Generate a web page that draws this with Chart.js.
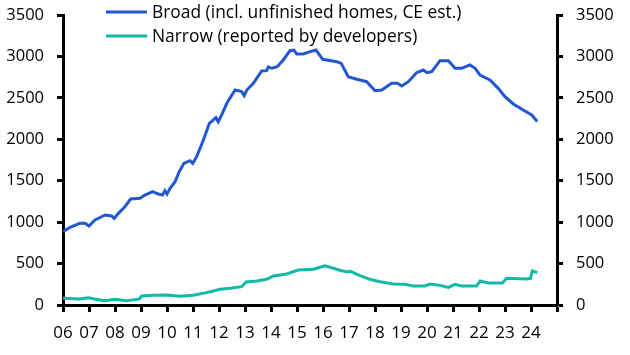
<!DOCTYPE html>
<html><head><meta charset="utf-8">
<script src="https://cdn.jsdelivr.net/npm/chart.js@4/dist/chart.umd.min.js"></script>
<style>html,body{margin:0;padding:0;background:#fff}#wrap{width:630px;height:355px}</style>
</head><body><div id="wrap"><canvas id="c" width="630" height="355"></canvas></div>
<script>
const seriesNames = ['Broad (incl. unfinished homes, CE est.)', 'Narrow (reported by developers)'];
const xTickLabels = ['06','07','08','09','10','11','12','13','14','15','16','17','18','19','20','21','22','23','24'];
const yTicks = [0,500,1000,1500,2000,2500,3000,3500];

const broadX = [2006.0,2006.27,2006.65,2006.85,2007.0,2007.23,2007.62,2007.87,2007.97,2008.13,2008.38,2008.6,2008.96,2009.15,2009.45,2009.67,2009.83,2009.92,2010.0,2010.12,2010.31,2010.47,2010.65,2010.88,2010.99,2011.14,2011.4,2011.63,2011.88,2011.97,2012.1,2012.3,2012.62,2012.87,2012.97,2013.07,2013.32,2013.64,2013.83,2013.9,2014.03,2014.24,2014.47,2014.73,2014.88,2014.99,2015.24,2015.5,2015.73,2015.99,2016.53,2016.7,2016.97,2017.3,2017.68,2018.0,2018.26,2018.64,2018.86,2019.03,2019.28,2019.6,2019.86,2020.0,2020.18,2020.5,2020.82,2021.08,2021.33,2021.65,2021.85,2022.04,2022.42,2022.74,2023.0,2023.32,2023.7,2024.03,2024.24];
const broadY = [885,938,986,986,953,1026,1086,1074,1046,1106,1186,1279,1287,1327,1367,1339,1327,1380,1339,1408,1488,1609,1710,1742,1710,1790,1991,2193,2261,2212,2293,2434,2595,2575,2526,2595,2676,2824,2828,2874,2857,2876,2957,3069,3077,3029,3029,3057,3077,2965,2937,2916,2755,2724,2695,2586,2595,2676,2676,2643,2695,2804,2836,2804,2816,2949,2949,2857,2857,2897,2857,2776,2716,2615,2514,2426,2353,2293,2215];

const narrowX = [2006.0,2006.65,2006.97,2007.2,2007.62,2008.0,2008.45,2008.83,2008.93,2009.03,2009.47,2010.0,2010.5,2011.0,2011.52,2012.04,2012.42,2012.87,2013.04,2013.45,2013.83,2014.09,2014.6,2015.05,2015.63,2016.08,2016.4,2016.72,2016.95,2017.04,2017.42,2017.81,2018.19,2018.7,2019.15,2019.47,2019.92,2020.12,2020.5,2020.82,2021.08,2021.33,2021.91,2022.04,2022.36,2022.9,2023.06,2023.83,2023.98,2024.05,2024.24];
const narrowY = [81,72,88,72,52,68,52,68,72,109,117,121,105,117,149,189,201,221,278,290,310,350,374,422,431,474,443,414,398,410,354,310,281,253,250,229,229,253,237,213,250,229,229,290,265,265,322,314,322,410,390];

const colors = ['#2257D0', '#12B8A8'];
const FONT = "'Open Sans', sans-serif";

const toPts = (xs, ys) => xs.map((x, i) => ({x: x, y: ys[i]}));

const legendPlugin = {
  id: 'customLegend',
  afterDraw(chart) {
    const ctx = chart.ctx;
    ctx.save();
    chart.data.datasets.forEach((ds, i) => {
      const y = 12 + i * 24;
      ctx.strokeStyle = ds.borderColor;
      ctx.lineWidth = 3;
      ctx.beginPath();
      ctx.moveTo(106, y);
      ctx.lineTo(147, y);
      ctx.stroke();
      ctx.fillStyle = '#000';
      ctx.font = '17.4px ' + FONT;
      ctx.textBaseline = 'middle';
      ctx.textAlign = 'left';
      ctx.fillText(ds.label, 152, y + 1);
    });
    ctx.restore();
  }
};

const zeroPad = (scale) => { scale.paddingTop = 0; scale.paddingBottom = 0; scale.paddingLeft = 0; scale.paddingRight = 0; };

const yAxisCommon = {
  type: 'linear', min: 0, max: 3500,
  afterBuildTicks(scale) { scale.ticks = yTicks.map(v => ({value: v})); },
  grid: { drawOnChartArea: false, drawTicks: true, tickLength: 6, tickWidth: 3, tickColor: '#000' },
  border: { display: true, color: '#000', width: 3 },
  ticks: { color: '#000', font: { family: FONT, size: 16.5 }, padding: 13, callback: (v) => String(v) }
};

new Chart(document.getElementById('c'), {
  type: 'line',
  data: {
    datasets: [
      { label: seriesNames[0], data: toPts(broadX, broadY), borderColor: colors[0], backgroundColor: colors[0], borderWidth: 3, pointRadius: 0, tension: 0, yAxisID: 'y' },
      { label: seriesNames[1], data: toPts(narrowX, narrowY), borderColor: colors[1], backgroundColor: colors[1], borderWidth: 3, pointRadius: 0, tension: 0, yAxisID: 'y' }
    ]
  },
  options: {
    responsive: false,
    devicePixelRatio: 1,
    animation: false,
    layout: { padding: { top: 15, left: 0, right: 0, bottom: 0 } },
    plugins: { legend: { display: false }, tooltip: { enabled: false } },
    scales: {
      x: {
        type: 'linear', min: 2006, max: 2025,
        afterBuildTicks(scale) { const t = []; for (let v = 2006; v <= 2025; v++) t.push({value: v}); scale.ticks = t; },
        afterFit(scale) { scale.height = 50; zeroPad(scale); },
        grid: { drawOnChartArea: false, drawTicks: true, tickLength: 7, tickWidth: 3, tickColor: '#000' },
        border: { display: true, color: '#000', width: 3 },
        ticks: {
          color: '#000', font: { family: FONT, size: 17 }, padding: 11, maxRotation: 0, autoSkip: false,
          callback: (v) => { const i = Math.round(v) - 2006; return xTickLabels[i] !== undefined ? xTickLabels[i] : ''; }
        }
      },
      y: Object.assign({}, yAxisCommon, { position: 'left', afterFit(scale) { scale.width = 63; zeroPad(scale); } }),
      y2: Object.assign({}, yAxisCommon, { position: 'right', afterFit(scale) { scale.width = 73; zeroPad(scale); } })
    }
  },
  plugins: [legendPlugin]
});
</script>
</body></html>
